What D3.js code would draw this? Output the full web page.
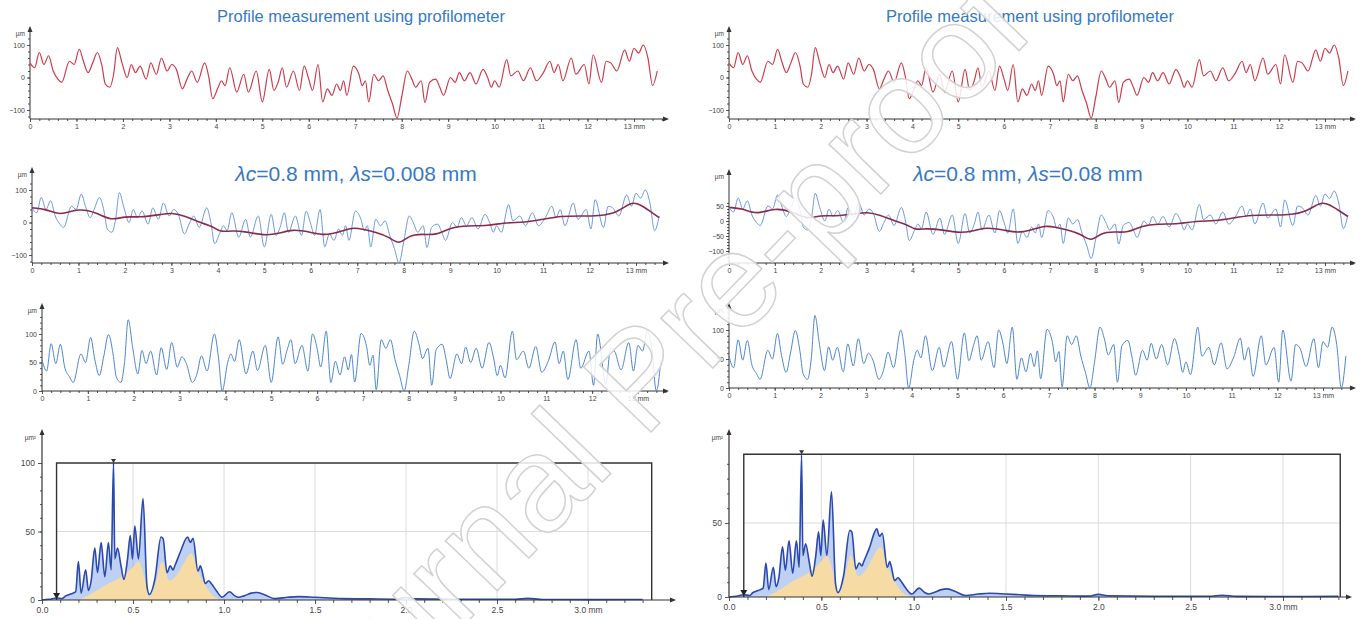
<!DOCTYPE html>
<html lang="en">
<head>
<meta charset="UTF-8">
<title>Profile measurement and spectrum</title>
<script src="https://d3js.org/d3.v7.min.js"></script>
<style>
  body { margin: 0; background: #fff; font-family: "Liberation Sans", Arial, sans-serif; }
  .axis line { stroke: #555; }
  .axis text { font-size: 7px; fill: #444; font-family: "Liberation Sans", Arial, sans-serif; }
  .spec .axis text { font-size: 8.5px; }
  .title { fill: #3579c4; font-family: "Liberation Sans", Arial, sans-serif; }
  .unit { font-size: 6.5px; fill: #444; }
</style>
</head>
<body>
<svg id="chart" width="1365" height="619"></svg>
<script>
// profile measured with the profilometer, [mm, µm]
const profile = [
  [0,45],[0.1,30],[0.2,77],[0.3,40],[0.4,67],[0.5,20],[0.6,-5],[0.68,-15],[0.85,50],[0.95,40],
  [1.06,87],[1.15,50],[1.25,15],[1.35,45],[1.45,77],[1.55,35],[1.62,-20],[1.72,-30],[1.8,10],[1.88,92],
  [1.98,45],[2.09,0],[2.18,40],[2.27,15],[2.37,35],[2.5,-5],[2.6,45],[2.72,10],[2.83,60],[2.95,20],
  [3.05,40],[3.15,25],[3.28,-35],[3.38,-5],[3.48,20],[3.6,-15],[3.76,45],[3.85,0],[3.93,-65],[4.05,-30],
  [4.12,-10],[4.2,-25],[4.3,30],[4.45,-45],[4.6,10],[4.7,-45],[4.87,20],[5.0,-75],[5.15,25],[5.25,-40],
  [5.35,-10],[5.43,30],[5.52,-30],[5.67,20],[5.8,-40],[5.9,35],[6.0,-5],[6.08,-40],[6.2,40],[6.3,-75],
  [6.4,-35],[6.5,-55],[6.6,-20],[6.68,-40],[6.75,-10],[6.82,-55],[6.96,35],[7.08,10],[7.15,-25],[7.22,-10],
  [7.29,-75],[7.4,10],[7.5,-10],[7.6,5],[7.7,-40],[7.8,-80],[7.9,-125],[8.0,-60],[8.12,20],[8.22,-5],
  [8.3,-30],[8.42,-10],[8.5,-77],[8.6,-15],[8.73,-5],[8.82,-30],[8.9,-55],[9.05,0],[9.15,-15],[9.24,15],
  [9.35,-10],[9.47,15],[9.6,-20],[9.75,25],[9.85,0],[9.93,-30],[10.0,-10],[10.1,-30],[10.26,55],[10.35,5],
  [10.5,20],[10.62,-10],[10.77,30],[10.9,-10],[11.05,15],[11.19,50],[11.28,15],[11.37,40],[11.47,-10],[11.65,60],
  [11.75,10],[11.93,40],[12.03,-20],[12.12,70],[12.3,-15],[12.4,50],[12.5,45],[12.63,20],[12.8,85],[12.9,50],
  [13.0,90],[13.1,75],[13.2,100],[13.3,60],[13.4,-25],[13.5,20]
];

// waviness (λc = 0.8 mm), [mm, µm]
const waviness = [
  [0,45],[0.3,42],[0.6,20],[1.0,45],[1.4,30],[1.7,5],[2.0,20],[2.3,15],[2.8,25],[3.0,30],
  [3.3,20],[3.6,0],[3.9,-12],[4.05,-30],[4.3,-25],[4.6,-28],[5.0,-40],[5.3,-35],[5.6,-20],[6.0,-30],
  [6.3,-40],[6.6,-30],[6.9,-15],[7.1,-20],[7.4,-30],[7.7,-45],[7.9,-70],[8.1,-40],[8.4,-35],[8.7,-40],
  [9.0,-15],[9.4,-10],[9.8,-10],[10.2,0],[10.6,0],[11.0,10],[11.4,20],[11.8,20],[12.2,20],[12.6,30],
  [12.9,65],[13.1,55],[13.3,35],[13.5,15]
];

// roughness profile, [mm, µm]
const roughness = [
  [0,55],[0.1,35],[0.2,83],[0.3,48],[0.4,82],[0.5,40],[0.6,25],[0.68,15],[0.85,65],[0.95,50],
  [1.06,94],[1.15,56],[1.25,27],[1.35,62],[1.45,99],[1.55,65],[1.62,25],[1.72,15],[1.8,50],[1.88,125],
  [1.98,75],[2.09,30],[2.18,71],[2.27,48],[2.37,70],[2.5,28],[2.6,76],[2.72,38],[2.83,85],[2.95,42],
  [3.05,60],[3.15,48],[3.28,15],[3.38,30],[3.48,62],[3.6,35],[3.76,100],[3.85,58],[3.93,0],[4.05,50],
  [4.12,65],[4.2,52],[4.3,90],[4.45,30],[4.6,70],[4.7,36],[4.87,80],[5.0,15],[5.15,95],[5.25,47],
  [5.35,73],[5.43,90],[5.52,48],[5.67,80],[5.8,35],[5.9,100],[6.0,75],[6.08,42],[6.2,105],[6.3,15],
  [6.4,52],[6.5,28],[6.6,60],[6.68,37],[6.75,64],[6.82,16],[6.96,101],[7.08,78],[7.15,45],[7.22,63],
  [7.29,2],[7.4,90],[7.5,75],[7.6,90],[7.7,55],[7.8,27],[7.9,0],[8.0,45],[8.12,105],[8.22,83],
  [8.3,57],[8.42,75],[8.5,10],[8.6,73],[8.73,82],[8.82,53],[8.9,22],[9.05,65],[9.15,48],[9.24,77],
  [9.35,50],[9.47,75],[9.6,40],[9.75,85],[9.85,58],[9.93,27],[10.0,45],[10.1,23],[10.26,105],[10.35,55],
  [10.5,70],[10.62,40],[10.77,78],[10.9,33],[11.05,54],[11.19,86],[11.28,48],[11.37,70],[11.47,20],[11.65,90],
  [11.75,40],[11.93,70],[12.03,10],[12.12,100],[12.3,12],[12.4,75],[12.5,68],[12.63,37],[12.8,85],[12.9,35],
  [13.0,80],[13.1,70],[13.2,105],[13.3,75],[13.4,0],[13.5,55]
];

// power spectrum, wavelength in mm
const specFreq = [0,0.04,0.08,0.11,0.13,0.15,0.17,0.185,0.2,0.215,0.24,0.255,0.27,0.29,0.305,0.325,0.345,0.365,0.38,0.393,
  0.4,0.415,0.434,0.45,0.47,0.485,0.497,0.51,0.53,0.555,0.577,0.59,0.62,0.654,0.665,0.687,0.705,0.72,0.73,0.76,
  0.8,0.815,0.83,0.857,0.87,0.88,0.897,0.915,0.93,0.957,0.99,1.03,1.06,1.08,1.11,1.15,1.18,1.22,1.28,1.35,
  1.41,1.5,1.58,1.65,1.8,1.95,2.0,2.05,2.3,2.6,2.67,2.75,3.0,3.3];
const specAmpL = [0,0.5,1.5,1,3,4,5,6,28,5,22,7,14,38,20,42,17,42,22,100,
  30,38,25,15,30,47,30,54,30,74,10,4,15,46,45,20,25,22,25,35,
  46,42,45,21,25,21,12,14,12,7,2,6,3,2,3,5,5.5,4,1,2,
  2.5,2,1.5,1,0.8,0.6,1.8,0.8,0.5,0.5,1.2,0.4,0.3,0.4];
const specAmpR = [0,0.5,1.5,1,3,4,5,6,23,5,20,7,13,34,18,38,16,38,20,96,
  28,36,24,14,28,44,28,52,28,71,9,3,14,45,44,19,23,21,24,33,
  46,41,43,20,24,20,11,13,11,6,2,6,3,2,3,5,5.5,4,1,2,
  2.5,2,1.5,1,0.8,0.6,1.8,0.8,0.5,0.5,1.2,0.4,0.3,0.4];
// smooth lower envelope (yellow)
const envFreq = [0.2,0.25,0.3,0.35,0.4,0.45,0.5,0.53,0.56,0.59,0.62,0.66,0.7,0.74,0.78,0.82,0.86,0.9,0.95,1.0];
const envAmp  = [0,3,7,11,14,18,24,28,18,2,10,28,14,18,27,34,20,10,2,0];

// tick labels
const mmTicks = [0,1,2,3,4,5,6,7,8,9,10,11,12,13];
const mmLabels = ["0","1","2","3","4","5","6","7","8","9","10","11","12","13 mm"];
const specTicks = [0,0.5,1.0,1.5,2.0,2.5,3.0];
const specLabels = ["0.0","0.5","1.0","1.5","2.0","2.5","3.0 mm"];

const titleTop = "Profile measurement using profilometer";

const svg = d3.select("#chart");

function arrow(g, x, y, dir) {
  const d = dir === "up"
    ? `M${x},${y} L${x-2.5},${y+6} L${x+2.5},${y+6} Z`
    : `M${x},${y} L${x-6},${y-2.5} L${x-6},${y+2.5} Z`;
  g.append("path").attr("d", d).attr("fill", "#333");
}

function profilePanel(p) {
  const x = d3.scaleLinear().domain([0, 13]).range([p.x0, p.x13]);
  const y = d3.scaleLinear().domain(p.yDomain).range(p.yRange);
  const g = svg.append("g");

  // axes: minor then major ticks
  g.append("g").attr("class", "axis").attr("transform", `translate(0,${p.axisY})`)
    .call(d3.axisBottom(x).tickValues(d3.range(0, 13.7, 0.2)).tickSize(2).tickFormat(""))
    .call(s => s.select(".domain").remove());
  g.append("g").attr("class", "axis").attr("transform", `translate(0,${p.axisY})`)
    .call(d3.axisBottom(x).tickValues(mmTicks).tickSize(3).tickPadding(2).tickFormat((d, i) => mmLabels[i]))
    .call(s => s.select(".domain").remove());
  g.append("g").attr("class", "axis").attr("transform", `translate(${p.x0},0)`)
    .call(d3.axisLeft(y).tickValues(p.yMinor).tickSize(2).tickFormat(""))
    .call(s => s.select(".domain").remove());
  g.append("g").attr("class", "axis").attr("transform", `translate(${p.x0},0)`)
    .call(d3.axisLeft(y).tickValues(p.yTicks).tickSize(3).tickPadding(2))
    .call(s => s.select(".domain").remove());

  g.append("line").attr("x1", p.x0).attr("x2", p.arrowX).attr("y1", p.axisY).attr("y2", p.axisY)
    .attr("stroke", "#333").attr("stroke-width", 1);
  g.append("line").attr("x1", p.x0).attr("x2", p.x0).attr("y1", p.axisY).attr("y2", p.topY)
    .attr("stroke", "#333").attr("stroke-width", 1);
  arrow(g, p.arrowX + 2, p.axisY, "right");
  arrow(g, p.x0, p.topY - 3, "up");
  g.append("text").attr("class", "unit").attr("x", p.x0 - 5).attr("y", p.topY + 7)
    .attr("text-anchor", "end").text("µm");

  p.lines.forEach(l => {
    const line = d3.line().x(d => x(d[0])).y(d => y(d[1])).curve(l.curve || d3.curveMonotoneX);
    g.append("path").datum(l.data).attr("d", line)
      .attr("fill", "none").attr("stroke", l.color).attr("stroke-width", l.width)
      .attr("stroke-linejoin", "round");
  });

  if (p.title) {
    g.append("text").attr("class", "title").attr("x", p.titleX).attr("y", p.titleY)
      .attr("text-anchor", "middle").attr("font-size", p.titleSize).html(p.title);
  }
}

function spectrumPanel(p) {
  const x = d3.scaleLinear().domain([0, 3]).range([p.x0, p.x3]);
  const y = d3.scaleLinear().domain([0, 50]).range([p.y0, p.y50]);
  const g = svg.append("g").attr("class", "spec");
  const left = x(0.08), right = x(p.right), top = y(p.top);

  // grid
  g.selectAll(".vgrid").data(specTicks.slice(1)).join("line")
    .attr("x1", d => x(d)).attr("x2", d => x(d)).attr("y1", y(0)).attr("y2", top)
    .attr("stroke", "#dcdcdc").attr("stroke-width", 1);
  g.append("line").attr("x1", left).attr("x2", right).attr("y1", y(50)).attr("y2", y(50))
    .attr("stroke", "#dcdcdc").attr("stroke-width", 1);

  const pts = p.freq.map((f, i) => [f, p.amp[i]]);
  const env = envFreq.map((f, i) => [f, envAmp[i]]);
  const area = d3.area().x(d => x(d[0])).y0(y(0)).y1(d => y(d[1])).curve(d3.curveMonotoneX);
  g.append("path").datum(pts).attr("d", area).attr("fill", "#7fa3e8").attr("opacity", 0.5);
  g.append("path").datum(env).attr("d", area).attr("fill", "#f6dca4");
  g.append("path").datum(pts)
    .attr("d", d3.line().x(d => x(d[0])).y(d => y(d[1])).curve(d3.curveMonotoneX))
    .attr("fill", "none").attr("stroke", "#2a48b0").attr("stroke-width", 1.6);

  // box with cursor line
  g.append("path")
    .attr("d", `M${left},${y(0)} L${left},${top} L${right},${top} L${right},${y(0)}`)
    .attr("fill", "none").attr("stroke", "#333").attr("stroke-width", 1.4);

  // axes
  g.append("g").attr("class", "axis").attr("transform", `translate(0,${y(0)})`)
    .call(d3.axisBottom(x).tickValues(d3.range(0, p.right + 0.01, 0.1)).tickSize(3).tickFormat(""))
    .call(s => s.select(".domain").remove());
  g.append("g").attr("class", "axis").attr("transform", `translate(0,${y(0)})`)
    .call(d3.axisBottom(x).tickValues(specTicks).tickSize(4).tickPadding(3).tickFormat((d, i) => specLabels[i]))
    .call(s => s.select(".domain").remove());
  g.append("g").attr("class", "axis").attr("transform", `translate(${p.x0},0)`)
    .call(d3.axisLeft(y).tickValues(d3.range(0, p.top, 10)).tickSize(2).tickFormat(""))
    .call(s => s.select(".domain").remove());
  g.append("g").attr("class", "axis").attr("transform", `translate(${p.x0},0)`)
    .call(d3.axisLeft(y).tickValues(p.yTicks).tickSize(4).tickPadding(3))
    .call(s => s.select(".domain").remove());

  g.append("line").attr("x1", p.x0).attr("x2", p.arrowX).attr("y1", y(0)).attr("y2", y(0))
    .attr("stroke", "#333").attr("stroke-width", 1.2);
  g.append("line").attr("x1", p.x0).attr("x2", p.x0).attr("y1", y(0)).attr("y2", p.topY)
    .attr("stroke", "#333").attr("stroke-width", 1.2);
  arrow(g, p.arrowX + 2, y(0), "right");
  arrow(g, p.x0, p.topY - 3, "up");
  g.append("text").attr("class", "unit").attr("x", p.x0 - 6).attr("y", p.topY + 8)
    .attr("text-anchor", "end").text("µm²");

  // markers: cursor and dominant peak
  g.append("path").attr("d", `M${left-3.5},${y(0)-7} L${left+3.5},${y(0)-7} L${left},${y(0)-1} Z`).attr("fill", "#222");
  const px = x(p.peak);
  g.append("path").attr("d", `M${px-2.5},${top-4} L${px+2.5},${top-4} L${px},${top} Z`).attr("fill", "#333");
}

// row 1
profilePanel({ x0: 30, x13: 634, arrowX: 667, axisY: 119, topY: 29,
  yDomain: [-100, 100], yRange: [110, 45], yTicks: [-100, 0, 100], yMinor: d3.range(-120, 121, 20),
  lines: [{ data: profile, color: "#cf3b4c", width: 1.2 }],
  title: titleTop, titleX: 361, titleY: 22, titleSize: 16.5 });
profilePanel({ x0: 729, x13: 1325, arrowX: 1354, axisY: 119, topY: 29,
  yDomain: [-100, 100], yRange: [110, 45], yTicks: [-100, 0, 100], yMinor: d3.range(-120, 121, 20),
  lines: [{ data: profile, color: "#cf3b4c", width: 1.2 }],
  title: titleTop, titleX: 1030, titleY: 22, titleSize: 16.5 });

// row 2
profilePanel({ x0: 32, x13: 636, arrowX: 667, axisY: 263, topY: 170,
  yDomain: [-100, 100], yRange: [255, 190], yTicks: [-100, 0, 100], yMinor: d3.range(-120, 121, 20),
  lines: [{ data: profile, color: "#6b9ae0", width: 1 },
          { data: waviness, color: "#8a2a4a", width: 1.6, curve: d3.curveBasis }],
  title: "<tspan font-style='italic'>λc</tspan>=0.8 mm, <tspan font-style='italic'>λs</tspan>=0.008 mm",
  titleX: 356, titleY: 181, titleSize: 21 });
profilePanel({ x0: 729, x13: 1325, arrowX: 1354, axisY: 263, topY: 172,
  yDomain: [-100, 50], yRange: [251, 206], yTicks: [-100, -50, 0, 50], yMinor: d3.range(-120, 61, 10),
  lines: [{ data: profile, color: "#6b9ae0", width: 1 },
          { data: waviness, color: "#8a2a4a", width: 1.6, curve: d3.curveBasis }],
  title: "<tspan font-style='italic'>λc</tspan>=0.8 mm, <tspan font-style='italic'>λs</tspan>=0.08 mm",
  titleX: 1028, titleY: 181, titleSize: 21 });

// row 3
profilePanel({ x0: 42, x13: 638, arrowX: 667, axisY: 391, topY: 306,
  yDomain: [0, 100], yRange: [391, 334], yTicks: [0, 50, 100], yMinor: d3.range(0, 131, 10),
  lines: [{ data: roughness, color: "#4d86d2", width: 1 }] });
profilePanel({ x0: 729, x13: 1323, arrowX: 1354, axisY: 388, topY: 306,
  yDomain: [0, 100], yRange: [388, 330], yTicks: [0, 50, 100], yMinor: d3.range(0, 131, 10),
  lines: [{ data: roughness, color: "#4d86d2", width: 1 }] });

// row 4
spectrumPanel({ x0: 42, x3: 588, right: 3.35, arrowX: 674, y0: 600, y50: 531.5, top: 100,
  topY: 432, yTicks: [0, 50, 100], freq: specFreq, amp: specAmpL, peak: 0.393 });
spectrumPanel({ x0: 729, x3: 1283, right: 3.31, arrowX: 1350, y0: 597, y50: 523, top: 96.5,
  topY: 432, yTicks: [0, 50], freq: specFreq, amp: specAmpR, peak: 0.393 });

// watermark
svg.append("text")
  .attr("transform", "translate(672,410) rotate(-46)")
  .attr("text-anchor", "middle")
  .attr("font-family", "'Liberation Sans', Arial, sans-serif")
  .attr("font-size", 136)
  .attr("fill", "#fff").attr("fill-opacity", 0.85)
  .attr("stroke", "#d2d2d2").attr("stroke-width", 1.5)
  .text("Journal Pre-proof");
</script>
</body>
</html>
